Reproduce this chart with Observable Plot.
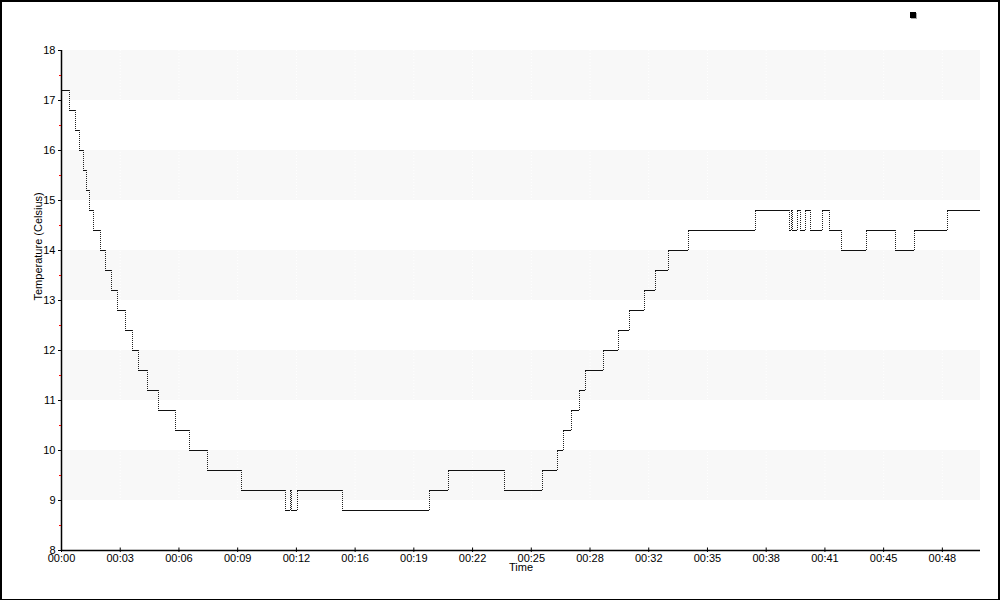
<!DOCTYPE html>
<html>
<head>
<meta charset="utf-8">
<script src="https://cdn.jsdelivr.net/npm/d3@7"></script>
<script src="https://cdn.jsdelivr.net/npm/@observablehq/plot@0.6"></script>
<style>
  html, body { margin: 0; padding: 0; background: #fff; }
  #wrap { position: relative; width: 1000px; height: 600px; overflow: hidden; }
  #wrap svg { position: absolute; left: 0; top: 0; }
  #border { position: absolute; left: 0; top: 0; width: 1000px; height: 600px; box-sizing: border-box;
            border-top: 2px solid #000; border-left: 2px solid #000; border-right: 2px solid #000; border-bottom: 1px solid #000; pointer-events: none; }
  #legend { position: absolute; left: 910px; top: 12px; width: 6px; height: 6px; background: #000; box-shadow: 1px 1px 0 #aaa; }
</style>
</head>
<body>
<div id="wrap"><div id="legend"></div><div id="border"></div></div>
<script>
// Time (minutes since start) at which each temperature level begins
const stepMinutes = [
  0.00, 0.455, 0.767, 1.002, 1.222, 1.353, 1.550, 1.769, 2.120, 2.394,
  2.739, 3.084, 3.522, 3.873, 4.234, 4.727, 5.330, 6.245, 7.028, 8.014,
  9.860, 12.287, 12.544, 12.616, 12.911, 15.393, 20.142, 21.216, 24.267, 26.322,
  27.171, 27.483, 27.938, 28.359, 28.721, 29.674, 30.512, 31.131, 31.936, 32.539,
  33.235, 34.363, 38.017, 39.896, 39.962, 40.016, 40.301, 40.498, 40.739, 41.013,
  41.671, 42.087, 42.712, 44.081, 45.686, 46.727, 48.551
];
// Temperature (Celsius) of each level
const stepTemps = [
  17.2, 16.8, 16.4, 16.0, 15.6, 15.2, 14.8, 14.4, 14.0, 13.6,
  13.2, 12.8, 12.4, 12.0, 11.6, 11.2, 10.8, 10.4, 10.0, 9.6,
  9.2, 8.8, 9.2, 8.8, 9.2, 8.8, 9.2, 9.6, 9.2, 9.6,
  10.0, 10.4, 10.8, 11.2, 11.6, 12.0, 12.4, 12.8, 13.2, 13.6,
  14.0, 14.4, 14.8, 14.4, 14.8, 14.4, 14.8, 14.4, 14.8, 14.4,
  14.8, 14.4, 14.0, 14.4, 14.0, 14.4, 14.8
];
const endMinute = 50.34;

const xTickLabels = ["00:00","00:03","00:06","00:09","00:12","00:16","00:19","00:22",
                     "00:25","00:28","00:32","00:35","00:38","00:41","00:45","00:48"];
const xTickStep = 3.2167; // minutes between ticks
const yMajorTicks = [8, 9, 10, 11, 12, 13, 14, 15, 16, 17, 18];
const yMinorTicks = [8.5, 9.5, 10.5, 11.5, 12.5, 13.5, 14.5, 15.5, 16.5, 17.5];
const shadedBands = [[9, 10], [11, 12], [13, 14], [15, 16], [17, 18]];

const xTicks = xTickLabels.map((_, i) => i * xTickStep);

const horiz = stepMinutes.map((t, i) => ({
  x1: t, x2: i + 1 < stepMinutes.length ? stepMinutes[i + 1] : endMinute, y: stepTemps[i]
}));
const vert = stepMinutes.slice(1).map((t, i) => ({
  x: t, y1: stepTemps[i], y2: stepTemps[i + 1]
}));
const bands = shadedBands.map(([a, b]) => ({y1: a, y2: b}));

const chart = Plot.plot({
  width: 1000,
  height: 600,
  marginLeft: 61,
  marginRight: 20,
  marginTop: 50,
  marginBottom: 50,
  style: {fontFamily: "'Liberation Sans', Arial, sans-serif", fontSize: "11px", background: "transparent", color: "#000"},
  x: {domain: [0, endMinute]},
  y: {domain: [8, 18]},
  marks: [
    Plot.rect(bands, {x1: 0, x2: endMinute, y1: "y1", y2: "y2", fill: "#f8f8f8"}),
    Plot.gridX(xTicks, {stroke: "#fff", strokeOpacity: 1, strokeDasharray: "1,2"}),
    Plot.ruleY(horiz, {x1: "x1", x2: "x2", y: "y", stroke: "#111", strokeWidth: 1, shapeRendering: "crispEdges"}),
    Plot.ruleX(vert, {x: "x", y1: "y1", y2: "y2", stroke: "#222", strokeWidth: 1, strokeDasharray: "1,1", shapeRendering: "crispEdges"}),
    Plot.ruleX([0], {stroke: "#000", strokeWidth: 1.5}),
    Plot.ruleY([8], {stroke: "#000", strokeWidth: 1.5}),
    Plot.ruleX(xTicks, {x: d => d, y1: 8, y2: 8.05, stroke: "#000"}),
    Plot.axisY(yMinorTicks, {tickSize: 2, stroke: "red", tickFormat: () => "", label: null}),
    Plot.axisY(yMajorTicks, {tickSize: 3, tickPadding: 3, tickFormat: d => String(d), label: null, fill: "#000"}),
    Plot.axisX(xTicks, {tickSize: 2, tickPadding: 2, tickFormat: d => xTickLabels[Math.round(d / xTickStep)], label: null, fill: "#000"}),
    Plot.text(["Time"], {frameAnchor: "bottom", dy: 20, fill: "#000", fontSize: 11}),
    Plot.text(["Temperature (Celsius)"], {frameAnchor: "left", dx: -23, rotate: -90, fill: "#000", fontSize: 11})
  ]
});
document.getElementById("wrap").prepend(chart);
</script>
</body>
</html>
